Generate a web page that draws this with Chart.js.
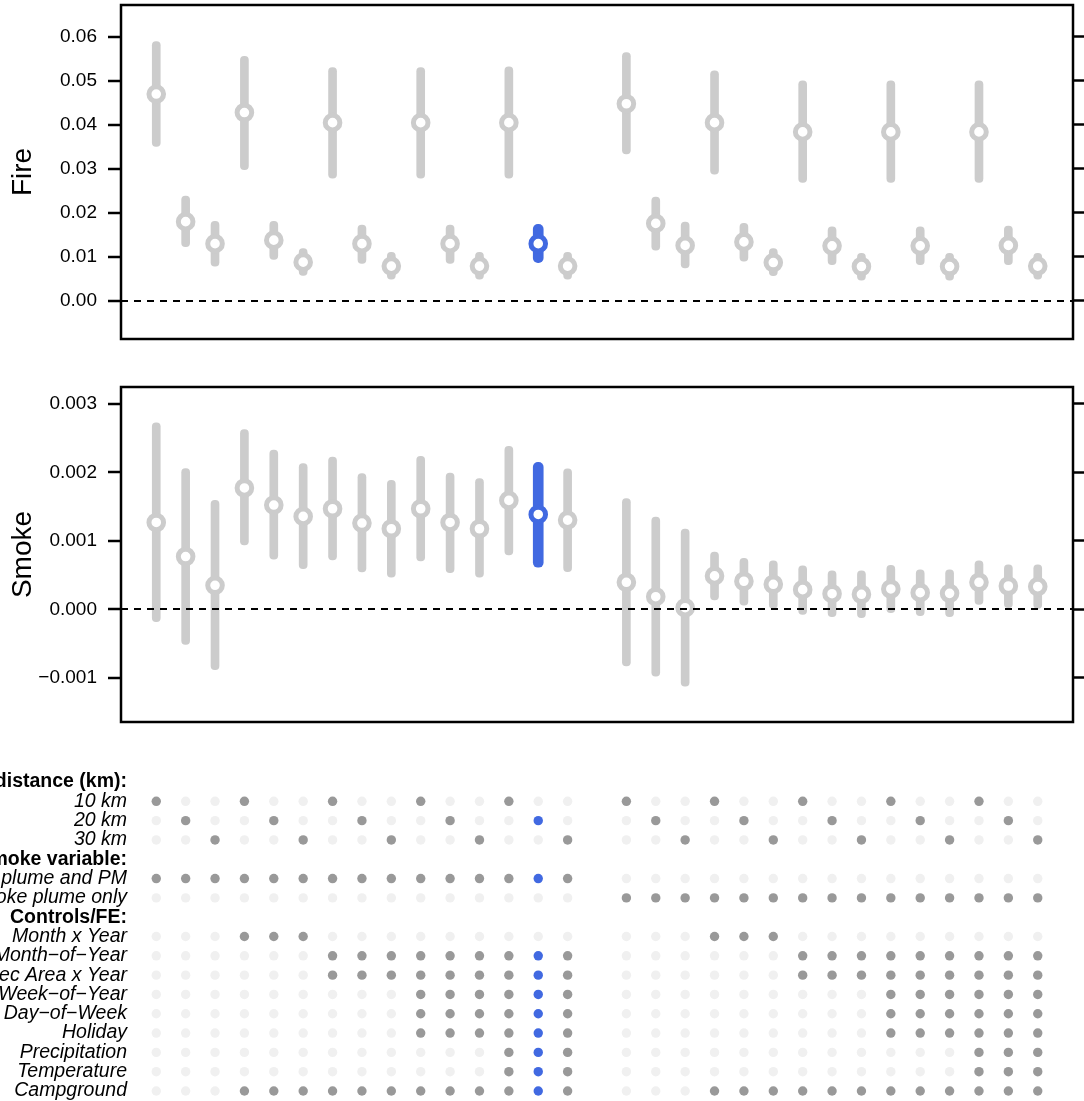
<!DOCTYPE html>
<html>
<head>
<meta charset="utf-8">
<script src="https://cdn.jsdelivr.net/npm/chart.js@4.4.1/dist/chart.umd.min.js"></script>
<style>
  body { margin: 0; background: #fff; }
  canvas { position: absolute; left: 0; }
</style>
</head>
<body>
<canvas id="fireChart" width="1084" height="350" style="top:0"></canvas>
<canvas id="smokeChart" width="1084" height="380" style="top:350px"></canvas>
<canvas id="gridChart" width="1084" height="371" style="top:730px"></canvas>
<script>
// x slot of each specification (slot 16 is the gap between the two smoke variables)
const specPos = [1, 2, 3, 4, 5, 6, 7, 8, 9, 10, 11, 12, 13, 14, 15,
                 17, 18, 19, 20, 21, 22, 23, 24, 25, 26, 27, 28, 29, 30, 31];
const chosen = 13; // highlighted specification

const fireEst = [0.0470, 0.0180, 0.0130, 0.0428, 0.0138, 0.0088, 0.0405, 0.0130, 0.0079, 0.0405, 0.0130, 0.0079, 0.0405, 0.0130, 0.0079,
                 0.0448, 0.0176, 0.0126, 0.0405, 0.0134, 0.0087, 0.0384, 0.0125, 0.0078, 0.0384, 0.0125, 0.0078, 0.0384, 0.0126, 0.0079];
const fireLo  = [0.0351, 0.0123, 0.0079, 0.0298, 0.0094, 0.0058, 0.0279, 0.0085, 0.0049, 0.0279, 0.0085, 0.0049, 0.0279, 0.0087, 0.0049,
                 0.0334, 0.0115, 0.0075, 0.0288, 0.0090, 0.0057, 0.0269, 0.0082, 0.0047, 0.0269, 0.0082, 0.0047, 0.0269, 0.0082, 0.0049];
const fireHi  = [0.0589, 0.0238, 0.0181, 0.0556, 0.0181, 0.0119, 0.0530, 0.0172, 0.0110, 0.0530, 0.0172, 0.0110, 0.0532, 0.0174, 0.0110,
                 0.0564, 0.0236, 0.0179, 0.0523, 0.0176, 0.0119, 0.0500, 0.0168, 0.0108, 0.0500, 0.0168, 0.0108, 0.0500, 0.0170, 0.0108];

const smokeEst = [0.001268, 0.000771, 0.000351, 0.001771, 0.001522, 0.001356, 0.001468, 0.001259, 0.001176, 0.001468, 0.001268, 0.001176, 0.001590, 0.001385, 0.001302,
                  0.000395, 0.000185, 0.000024, 0.000488, 0.000410, 0.000366, 0.000288, 0.000229, 0.000220, 0.000298, 0.000244, 0.000234, 0.000395, 0.000341, 0.000332];
const smokeLo  = [-0.000180, -0.000512, -0.000878, 0.000941, 0.000732, 0.000595, 0.000722, 0.000546, 0.000468, 0.000707, 0.000537, 0.000468, 0.000795, 0.000614, 0.000551,
                  -0.000824, -0.000976, -0.001122, 0.000137, 0.000063, 0.000015, -0.000073, -0.000107, -0.000122, -0.000049, -0.000093, -0.000107, 0.000073, 0.000024, 0.000015];
const smokeHi  = [0.002720, 0.002054, 0.001590, 0.002624, 0.002322, 0.002127, 0.002220, 0.001980, 0.001883, 0.002234, 0.001990, 0.001907, 0.002380, 0.002146, 0.002049,
                  0.001615, 0.001346, 0.001171, 0.000834, 0.000746, 0.000707, 0.000634, 0.000561, 0.000561, 0.000644, 0.000576, 0.000576, 0.000707, 0.000649, 0.000649];

const fireTicks = [0, 0.01, 0.02, 0.03, 0.04, 0.05, 0.06];
const smokeTicks = [-0.001, 0, 0.001, 0.002, 0.003];

// specification grid
const rowLabels = ['Fire distance (km):', '10 km', '20 km', '30 km',
  'Smoke variable:', 'Smoke plume and PM', 'Smoke plume only',
  'Controls/FE:', 'Month x Year', 'Month\u2212of\u2212Year', 'Rec Area x Year', 'Week\u2212of\u2212Year',
  'Day\u2212of\u2212Week', 'Holiday', 'Precipitation', 'Temperature', 'Campground'];
const headerRows = ['Fire distance (km):', 'Smoke variable:', 'Controls/FE:'];

const distance = ['10 km', '20 km', '30 km', '10 km', '20 km', '30 km', '10 km', '20 km', '30 km', '10 km', '20 km', '30 km', '10 km', '20 km', '30 km',
                  '10 km', '20 km', '30 km', '10 km', '20 km', '30 km', '10 km', '20 km', '30 km', '10 km', '20 km', '30 km', '10 km', '20 km', '30 km'];
const smokeVar = [1, 1, 1, 1, 1, 1, 1, 1, 1, 1, 1, 1, 1, 1, 1, 2, 2, 2, 2, 2, 2, 2, 2, 2, 2, 2, 2, 2, 2, 2];
const controls = {
  'Month x Year':              [0, 0, 0, 1, 1, 1, 0, 0, 0, 0, 0, 0, 0, 0, 0, 0, 0, 0, 1, 1, 1, 0, 0, 0, 0, 0, 0, 0, 0, 0],
  'Month\u2212of\u2212Year':   [0, 0, 0, 0, 0, 0, 1, 1, 1, 1, 1, 1, 1, 1, 1, 0, 0, 0, 0, 0, 0, 1, 1, 1, 1, 1, 1, 1, 1, 1],
  'Rec Area x Year':           [0, 0, 0, 0, 0, 0, 1, 1, 1, 1, 1, 1, 1, 1, 1, 0, 0, 0, 0, 0, 0, 1, 1, 1, 1, 1, 1, 1, 1, 1],
  'Week\u2212of\u2212Year':    [0, 0, 0, 0, 0, 0, 0, 0, 0, 1, 1, 1, 1, 1, 1, 0, 0, 0, 0, 0, 0, 0, 0, 0, 1, 1, 1, 1, 1, 1],
  'Day\u2212of\u2212Week':     [0, 0, 0, 0, 0, 0, 0, 0, 0, 1, 1, 1, 1, 1, 1, 0, 0, 0, 0, 0, 0, 0, 0, 0, 1, 1, 1, 1, 1, 1],
  'Holiday':                   [0, 0, 0, 0, 0, 0, 0, 0, 0, 1, 1, 1, 1, 1, 1, 0, 0, 0, 0, 0, 0, 0, 0, 0, 1, 1, 1, 1, 1, 1],
  'Precipitation':             [0, 0, 0, 0, 0, 0, 0, 0, 0, 0, 0, 0, 1, 1, 1, 0, 0, 0, 0, 0, 0, 0, 0, 0, 0, 0, 0, 1, 1, 1],
  'Temperature':               [0, 0, 0, 0, 0, 0, 0, 0, 0, 0, 0, 0, 1, 1, 1, 0, 0, 0, 0, 0, 0, 0, 0, 0, 0, 0, 0, 1, 1, 1],
  'Campground':                [0, 0, 0, 1, 1, 1, 1, 1, 1, 1, 1, 1, 1, 1, 1, 0, 0, 0, 1, 1, 1, 1, 1, 1, 1, 1, 1, 1, 1, 1]
};

const GRAY = '#CCCCCC', BLUE = '#4169E1', ON = '#999999', OFF = '#F0F0F0';
const FONT = "'Liberation Sans', Arial, Helvetica, sans-serif";

// black frame round the plot region
const boxPlugin = {
  id: 'box',
  afterDraw(chart) {
    const a = chart.chartArea, ctx = chart.ctx;
    ctx.save();
    ctx.strokeStyle = '#000';
    ctx.lineWidth = 2.5;
    ctx.strokeRect(a.left, a.top, a.right - a.left, a.bottom - a.top);
    ctx.restore();
  }
};

function panelChart(id, est, lo, hi, yMin, yMax, ticks, decimals, title, padTop, padBottom) {
  const fmt = v => (v < 0 ? '\u2212' : '') + Math.abs(v).toFixed(decimals);
  const setTicks = s => { s.ticks = ticks.map(v => ({ value: v })); };
  const ci = specPos.map((x, i) => ({ x, y: [lo[i], hi[i]] }));
  return new Chart(document.getElementById(id), {
    type: 'bar',
    data: {
      datasets: [
        {
          type: 'scatter',
          data: specPos.map((x, i) => ({ x, y: est[i] })),
          pointRadius: 7.3,
          pointBorderWidth: 5,
          pointBackgroundColor: '#fff',
          pointBorderColor: specPos.map((_, i) => i === chosen ? BLUE : GRAY),
          order: 0
        },
        {
          data: ci.filter((_, i) => i !== chosen),
          backgroundColor: GRAY,
          barThickness: 8, borderRadius: 4, borderSkipped: false, grouped: false,
          order: 1
        },
        {
          data: [ci[chosen]],
          backgroundColor: BLUE,
          barThickness: 10, borderRadius: 5, borderSkipped: false, grouped: false,
          order: 1
        }
      ]
    },
    options: {
      responsive: false,
      animation: false,
      events: [],
      layout: { autoPadding: false, padding: { top: padTop, bottom: padBottom, left: 0, right: 0 } },
      plugins: { legend: { display: false }, tooltip: { enabled: false } },
      scales: {
        x: { type: 'linear', min: -0.2, max: 32.2, offset: false, display: false },
        y: {
          position: 'left', min: yMin, max: yMax,
          afterBuildTicks: setTicks,
          afterFit: s => { s.width = 121; s.paddingTop = 0; s.paddingBottom = 0; },
          ticks: { callback: fmt, color: '#000', font: { family: FONT, size: 19 }, padding: 11 },
          grid: {
            z: 1,
            color: c => (c.tick && c.tick.value === 0) ? '#000' : 'rgba(0,0,0,0)',
            lineWidth: 2, tickColor: '#000', tickLength: 13, tickWidth: 2.5
          },
          border: { display: false, dash: [7, 6] },
          title: { display: true, text: title, color: '#000', font: { family: FONT, size: 28 }, padding: { top: 6, bottom: 0 } }
        },
        y2: {
          position: 'right', min: yMin, max: yMax,
          afterBuildTicks: setTicks,
          afterFit: s => { s.width = 11; s.paddingTop = 0; s.paddingBottom = 0; },
          ticks: { display: false },
          grid: { drawOnChartArea: false, tickColor: '#000', tickLength: 11, tickWidth: 2.5 },
          border: { display: false }
        }
      }
    },
    plugins: [boxPlugin]
  });
}

panelChart('fireChart', fireEst, fireLo, fireHi, -0.00867, 0.06724, fireTicks, 2, 'Fire', 5, 11);
panelChart('smokeChart', smokeEst, smokeLo, smokeHi, -0.001643, 0.003244, smokeTicks, 3, 'Smoke', 37, 8);

// build the indicator grid points
const gridPoints = [], gridColors = [];
specPos.forEach((x, i) => {
  const active = {};
  active[distance[i]] = true;
  active[smokeVar[i] === 1 ? 'Smoke plume and PM' : 'Smoke plume only'] = true;
  Object.keys(controls).forEach(k => { if (controls[k][i]) active[k] = true; });
  rowLabels.forEach(r => {
    if (headerRows.includes(r)) return;
    gridPoints.push({ x, y: r });
    gridColors.push(active[r] ? (i === chosen ? BLUE : ON) : OFF);
  });
});

// the label axis is 10px wider than the panels' one, so the x range starts a bit later
new Chart(document.getElementById('gridChart'), {
  type: 'scatter',
  data: {
    datasets: [{
      data: gridPoints,
      pointRadius: 4.7,
      pointBorderWidth: 0,
      pointBackgroundColor: gridColors,
      clip: false
    }]
  },
  options: {
    responsive: false,
    animation: false,
    events: [],
    layout: { autoPadding: false, padding: { top: 52, bottom: 10, left: 0, right: 11 } },
    plugins: { legend: { display: false }, tooltip: { enabled: false } },
    scales: {
      x: { type: 'linear', min: 0.14, max: 32.2, display: false },
      y: {
        type: 'category', labels: rowLabels, offset: false,
        afterFit: s => { s.width = 131; s.paddingTop = 0; s.paddingBottom = 0; },
        ticks: {
          autoSkip: false, padding: 4, color: '#000',
          font: c => {
            const head = c.tick && headerRows.includes(c.tick.label);
            return { family: FONT, size: 19.5, style: head ? 'normal' : 'italic', weight: head ? 'bold' : 'normal' };
          }
        },
        grid: { display: false, drawTicks: false },
        border: { display: false }
      }
    }
  }
});
</script>
</body>
</html>
